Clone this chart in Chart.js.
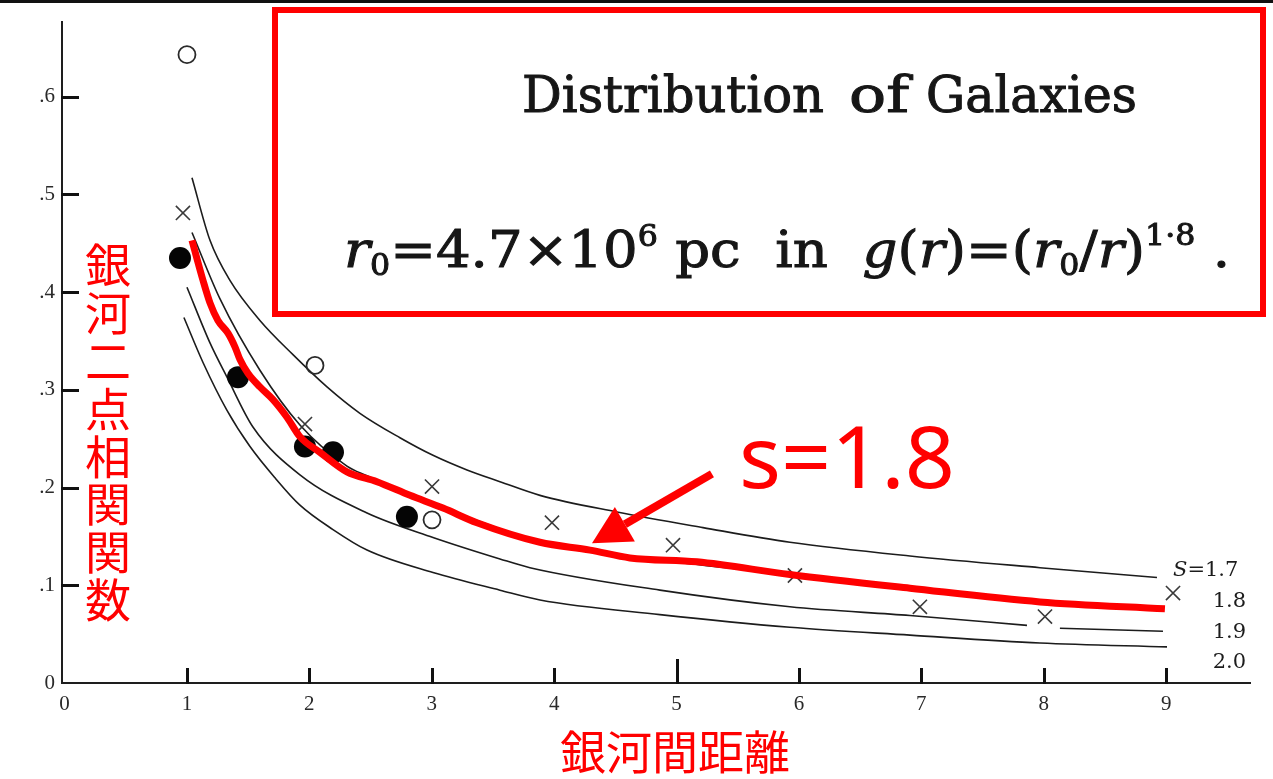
<!DOCTYPE html>
<html lang="ja">
<head>
<meta charset="utf-8">
<title>Distribution of Galaxies</title>
<script src="https://cdn.jsdelivr.net/npm/chart.js@4.4.1/dist/chart.umd.min.js"></script>
<style>
  html, body { margin: 0; padding: 0; background: #fff; overflow: hidden; }
  .wrap { position: relative; width: 1273px; height: 779px; }
</style>
</head>
<body>
<div class="wrap"><canvas id="corr"></canvas></div>
<script>
/* ===== DONNÉES ===== */
const xTickLabels = ['0', '1', '2', '3', '4', '5', '6', '7', '8', '9'];
const yTickLabels = ['0', '.1', '.2', '.3', '.4', '.5', '.6'];

// courbes théoriques S = 1.7 / 1.8 / 1.9 / 2.0
const s17X = [1.041, 1.188, 1.351, 1.596, 1.866, 2.144, 2.413, 2.740, 3.010, 3.288, 3.557, 3.884, 4.513, 5.216, 5.926, 6.907, 7.969, 8.925];
const s17Y = [0.517, 0.453, 0.412, 0.371, 0.336, 0.303, 0.276, 0.251, 0.233, 0.218, 0.206, 0.192, 0.175, 0.159, 0.144, 0.130, 0.118, 0.108];

const s18X = [1.041, 1.270, 1.596, 1.923, 2.307, 2.471, 2.700, 3.000, 3.884, 4.864, 5.926, 6.907, 7.969, 8.974];
const s18Y = [0.461, 0.393, 0.320, 0.264, 0.222, 0.212, 0.199, 0.184, 0.145, 0.126, 0.111, 0.097, 0.083, 0.078];

// la courbe 1.9 est interrompue autour de x = 8 (null = coupure)
const s19X = [1.000, 1.188, 1.327, 1.539, 1.923, 2.471, 3.010, 3.557, 3.802, 4.864, 5.926, 6.907, 7.863, 8.000, 8.132, 8.974];
const s19Y = [0.405, 0.348, 0.313, 0.262, 0.213, 0.174, 0.149, 0.127, 0.118, 0.095, 0.078, 0.069, 0.059, null, 0.056, 0.053];

const s20X = [0.975, 1.131, 1.327, 1.515, 1.719, 1.923, 2.193, 2.471, 3.010, 3.557, 3.884, 4.864, 5.926, 6.907, 7.969, 9.007];
const s20Y = [0.374, 0.328, 0.279, 0.242, 0.210, 0.182, 0.157, 0.136, 0.113, 0.095, 0.085, 0.070, 0.057, 0.049, 0.041, 0.037];

// tracé rouge s = 1.8 (à main levée)
const redX = [1.041, 1.131, 1.188, 1.253, 1.335, 1.392, 1.433, 1.498, 1.596, 1.703, 1.817, 1.923, 2.087, 2.307, 2.552, 2.822, 3.092, 3.369, 3.884, 4.293, 4.619, 5.167, 5.926, 6.907, 7.969, 8.990];
const redY = [0.453, 0.412, 0.389, 0.371, 0.358, 0.344, 0.331, 0.317, 0.303, 0.290, 0.272, 0.252, 0.236, 0.216, 0.206, 0.192, 0.179, 0.164, 0.144, 0.136, 0.128, 0.124, 0.111, 0.097, 0.083, 0.076];

// points observés
const openX   = [1.000, 2.046, 3.002];
const openY   = [0.643, 0.325, 0.167];
const filledX = [0.943, 1.417, 1.964, 2.193, 2.797];
const filledY = [0.435, 0.313, 0.242, 0.236, 0.170];
const crossX  = [0.967, 1.964, 3.002, 3.982, 4.971, 5.967, 6.988, 8.010, 9.056];
const crossY  = [0.481, 0.265, 0.201, 0.164, 0.141, 0.110, 0.078, 0.068, 0.092];

const curveLabels = ['1.7', '1.8', '1.9', '2.0'];

const pts = (xs, ys) => xs.map((v, i) => ({ x: v, y: ys[i] }));

/* ===== STYLES ===== */
const INK = '#1c1c1c', AXIS = '#1e1e1e', RED = '#ff0000';
const SERIF = "'DejaVu Serif', serif";
const CJK = "'Noto Sans CJK JP', sans-serif";

function curve(data, order) {
  return {
    type: 'line', data, order,
    borderColor: INK, borderWidth: 1.6, pointRadius: 0,
    cubicInterpolationMode: 'monotone', spanGaps: false, fill: false
  };
}

// texte étiré/comprimé horizontalement pour tenir dans une largeur donnée
function fitText(ctx, text, x, base, w, heavy) {
  const m = ctx.measureText(text).width;
  ctx.save();
  ctx.translate(x, base);
  ctx.scale(w / m, 1);
  ctx.fillText(text, 0, 0);
  if (heavy) { ctx.lineWidth = heavy; ctx.strokeText(text, 0, 0); }
  ctx.restore();
}

// formule en plusieurs morceaux (italique, indices, exposants), mise à la largeur voulue
function drawFormula(ctx, parts, x, base, w) {
  let total = 0;
  parts.forEach(p => { ctx.font = p[0]; total += ctx.measureText(p[1]).width; });
  ctx.save();
  ctx.translate(x, base);
  ctx.scale(w / total, 1);
  ctx.lineWidth = 1;
  let cx = 0;
  parts.forEach(p => {
    ctx.font = p[0];
    ctx.fillText(p[1], cx, p[2]);
    ctx.strokeText(p[1], cx, p[2]);
    cx += ctx.measureText(p[1]).width;
  });
  ctx.restore();
}

/* ===== ANNOTATIONS ===== */
const overlay = {
  id: 'overlay',
  afterDraw(chart) {
    const { ctx, chartArea: area } = chart;
    const x = chart.scales.x, y = chart.scales.y;
    const px = v => x.getPixelForValue(v), py = v => y.getPixelForValue(v);
    ctx.save();

    // filet noir en haut
    ctx.fillStyle = '#111';
    ctx.fillRect(0, 0, chart.width, 3);

    // graduations tournées vers l'intérieur
    ctx.fillStyle = '#111';
    const left = Math.round(area.left), bottom = Math.round(area.bottom);
    yTickLabels.forEach((lab, i) => {
      if (i === 0) return;
      const yy = Math.round(py(i / 10));
      ctx.fillRect(left - 1, yy - 1, 18, 3);
    });
    xTickLabels.forEach((lab, i) => {
      if (i === 0) return;
      const xx = Math.round(px(i));
      const len = i === 5 ? 24 : 15;
      ctx.fillRect(xx - 1, bottom - len, 3, len + 1);
    });

    // étiquettes S à droite des courbes
    ctx.fillStyle = INK;
    ctx.textBaseline = 'alphabetic';
    ctx.textAlign = 'left';
    ctx.font = 'italic 21px ' + SERIF;
    ctx.fillText('S', px(9.056), py(0.109));
    const sw = ctx.measureText('S').width;
    ctx.font = '21px ' + SERIF;
    ctx.fillText('=' + curveLabels[0], px(9.056) + sw, py(0.109));
    [0.078, 0.046, 0.015].forEach((v, i) => {
      ctx.fillText(curveLabels[i + 1], px(9.38), py(v));
    });

    // cadre rouge + titre et formule
    ctx.strokeStyle = RED;
    ctx.lineWidth = 6;
    ctx.strokeRect(275, 10, 988, 304);

    ctx.fillStyle = '#161616';
    ctx.strokeStyle = '#161616';
    ctx.font = '51px ' + SERIF;
    fitText(ctx, 'Distribution', 522, 112, 302, 1);
    fitText(ctx, 'of', 849, 112, 60, 1);
    fitText(ctx, 'Galaxies', 926, 112, 211, 1);

    const F = '50px ' + SERIF, FI = 'italic 50px ' + SERIF, FS = '29px ' + SERIF;
    drawFormula(ctx, [
      [FI, 'r', 0], [FS, '0', 8], [F, '=4.7', 0], [F, '×', 0], [F, '10', 0], [FS, '6', -21],
      [F, ' pc  in  ', 0], [FI, 'g', 0], [F, '(', 0], [FI, 'r', 0], [F, ')=(', 0],
      [FI, 'r', 0], [FS, '0', 8], [F, '/', 0], [FI, 'r', 0], [F, ')', 0],
      [FS, '1·8', -22], [F, ' .', 0]
    ], 344, 267, 886);

    // libellé « s=1.8 » et flèche vers la courbe rouge
    ctx.fillStyle = RED;
    ctx.font = "85px 'Noto Sans', sans-serif";
    fitText(ctx, 's=1.8', px(5.51), py(0.1996), 216);

    const tx = px(4.309), ty = py(0.143), sx = px(5.289), sy = py(0.214);
    const ang = Math.atan2(ty - sy, tx - sx);
    const head = 38, half = 20;
    const bx = tx - head * Math.cos(ang), by = ty - head * Math.sin(ang);
    ctx.strokeStyle = RED;
    ctx.lineWidth = 8;
    ctx.beginPath();
    ctx.moveTo(sx, sy); ctx.lineTo(bx, by);
    ctx.stroke();
    ctx.beginPath();
    ctx.moveTo(tx, ty);
    ctx.lineTo(bx + half * Math.sin(ang), by - half * Math.cos(ang));
    ctx.lineTo(bx - half * Math.sin(ang), by + half * Math.cos(ang));
    ctx.closePath();
    ctx.fill();

    // titres des axes (écriture verticale pour l'axe y)
    ctx.font = '46px ' + CJK;
    ctx.textAlign = 'center';
    ctx.textBaseline = 'middle';
    Array.from('銀河二点相関関数').forEach((ch, i) => {
      ctx.fillText(ch, 108, 265 + i * 47.8);
    });
    ctx.fillText('銀河間距離', 675, 752);

    ctx.restore();
  }
};

/* ===== GRAPHIQUE ===== */
new Chart(document.getElementById('corr'), {
  type: 'scatter',
  data: {
    datasets: [
      {
        type: 'line', data: pts(redX, redY), order: 0,
        borderColor: RED, borderWidth: 7, pointRadius: 0,
        cubicInterpolationMode: 'monotone', fill: false,
        borderCapStyle: 'butt', borderJoinStyle: 'round'
      },
      {
        data: pts(filledX, filledY), order: 1,
        pointStyle: 'circle', pointRadius: 11, backgroundColor: '#050505', borderWidth: 0
      },
      {
        data: pts(openX, openY), order: 1,
        pointStyle: 'circle', pointRadius: 8.5, backgroundColor: 'rgba(255,255,255,0)',
        borderColor: '#2a2a2a', borderWidth: 1.8
      },
      {
        data: pts(crossX, crossY), order: 1,
        pointStyle: 'crossRot', pointRadius: 10, borderColor: '#3a3a3a', borderWidth: 1.6
      },
      curve(pts(s17X, s17Y), 2),
      curve(pts(s18X, s18Y), 2),
      curve(pts(s19X, s19Y), 2),
      curve(pts(s20X, s20Y), 2)
    ]
  },
  options: {
    responsive: true,
    maintainAspectRatio: false,
    animation: false,
    events: [],
    layout: { padding: { top: 22, right: 23, left: 0, bottom: 0 } },
    plugins: { legend: { display: false }, tooltip: { enabled: false } },
    scales: {
      x: {
        type: 'linear', min: -0.021, max: 9.685,
        afterFit: s => { s.height = 96; },
        grid: { display: true, drawOnChartArea: false, drawTicks: false },
        border: { display: true, color: AXIS, width: 2 },
        ticks: {
          stepSize: 1, includeBounds: false, autoSkip: false, maxRotation: 0, padding: 9,
          color: '#2a2a2a', font: { family: "'Liberation Serif', serif", size: 21 },
          callback: v => xTickLabels[Math.round(v)]
        }
      },
      y: {
        type: 'linear', min: 0, max: 0.6764,
        afterFit: s => { s.width = 62; },
        grid: { display: true, drawOnChartArea: false, drawTicks: false },
        border: { display: true, color: AXIS, width: 2 },
        ticks: {
          stepSize: 0.1, includeBounds: false, autoSkip: false, padding: 7,
          color: '#2a2a2a', font: { family: "'Liberation Serif', serif", size: 21 },
          callback: v => yTickLabels[Math.round(v * 10)]
        }
      }
    }
  },
  plugins: [overlay]
});
</script>
</body>
</html>
